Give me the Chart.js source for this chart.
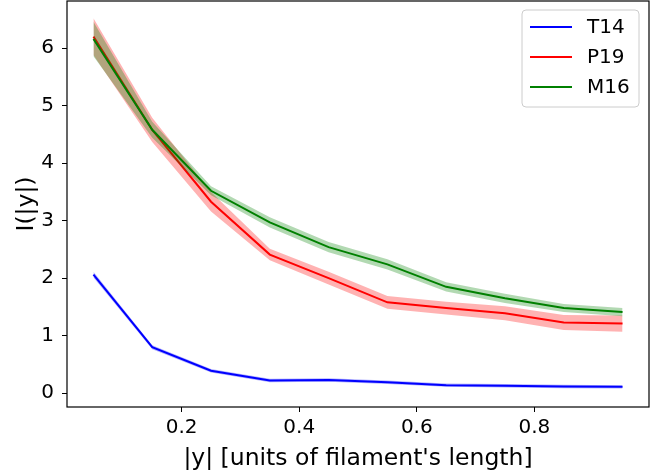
<!DOCTYPE html>
<html>
<head>
<meta charset="utf-8">
<script src="https://cdn.jsdelivr.net/npm/chart.js@4.4.1/dist/chart.umd.min.js"></script>
<style>
  html, body { margin: 0; padding: 0; background: #fff; }
  #wrap { width: 665px; height: 474px; }
</style>
</head>
<body>
<div id="wrap"><canvas id="myChart" width="665" height="474"></canvas></div>
<script>
// |y| positions (bin centres)
const xVals = [0.05, 0.15, 0.25, 0.35, 0.45, 0.55, 0.65, 0.75, 0.85, 0.95];

// series values and their shaded half-widths
const t14 = [2.06, 0.80, 0.39, 0.22, 0.23, 0.19, 0.14, 0.13, 0.115, 0.11];
const t14Err = [0.05, 0.035, 0.03, 0.03, 0.03, 0.03, 0.03, 0.03, 0.03, 0.03];
const p19 = [6.20, 4.58, 3.33, 2.41, 2.00, 1.58, 1.48, 1.39, 1.23, 1.21];
const p19Err = [0.32, 0.21, 0.17, 0.10, 0.11, 0.11, 0.11, 0.12, 0.13, 0.14];
const m16 = [6.16, 4.58, 3.52, 2.97, 2.54, 2.24, 1.85, 1.65, 1.48, 1.41];
const m16Err = [0.30, 0.14, 0.08, 0.09, 0.09, 0.09, 0.08, 0.08, 0.07, 0.07];

const labels = ["T14", "P19", "M16"];
const xTicks = [0.2, 0.4, 0.6, 0.8];
const yTicks = [0, 1, 2, 3, 4, 5, 6];

const FONT = "'DejaVu Sans', sans-serif";

function pts(vals, err, sign) {
    return xVals.map((x, i) => ({ x: x, y: vals[i] + sign * err[i] }));
}

function lineSet(label, vals, color, order) {
    return {
        label: label, data: pts(vals, vals.map(() => 0), 0),
        borderColor: color, borderWidth: 2, pointRadius: 0,
        fill: false, tension: 0, order: order
    };
}
function bandSet(vals, err, sign, fillTo, color, order) {
    return {
        label: "", data: pts(vals, err, sign),
        borderColor: "transparent", borderWidth: 0, pointRadius: 0,
        backgroundColor: color, fill: fillTo, tension: 0, order: order
    };
}

const datasets = [
    lineSet(labels[0], t14, "#0000ff", 4),
    bandSet(t14, t14Err, 1, 2, "rgba(0,0,255,0.3)", 5),
    bandSet(t14, t14Err, -1, false, "rgba(0,0,255,0.3)", 5),
    lineSet(labels[1], p19, "#ff0000", 2),
    bandSet(p19, p19Err, 1, 5, "rgba(255,0,0,0.3)", 3),
    bandSet(p19, p19Err, -1, false, "rgba(255,0,0,0.3)", 3),
    lineSet(labels[2], m16, "#008000", 0),
    bandSet(m16, m16Err, 1, 8, "rgba(0,128,0,0.3)", 1),
    bandSet(m16, m16Err, -1, false, "rgba(0,128,0,0.3)", 1)
];

// frame + legend drawn like matplotlib
const framePlugin = {
    id: "frame",
    afterDraw(chart) {
        const ctx = chart.ctx;
        const a = chart.chartArea;
        ctx.save();
        ctx.strokeStyle = "#000";
        ctx.lineWidth = 1.2;
        ctx.strokeRect(a.left, a.top, a.right - a.left, a.bottom - a.top);

        // legend box
        const bx = 522, by = 10, bw = 117, bh = 97, r = 4;
        ctx.beginPath();
        ctx.moveTo(bx + r, by);
        ctx.arcTo(bx + bw, by, bx + bw, by + bh, r);
        ctx.arcTo(bx + bw, by + bh, bx, by + bh, r);
        ctx.arcTo(bx, by + bh, bx, by, r);
        ctx.arcTo(bx, by, bx + bw, by, r);
        ctx.closePath();
        ctx.fillStyle = "rgba(255,255,255,0.8)";
        ctx.fill();
        ctx.strokeStyle = "#cccccc";
        ctx.lineWidth = 1;
        ctx.stroke();

        const colors = ["#0000ff", "#ff0000", "#008000"];
        ctx.font = "20px " + FONT;
        ctx.textBaseline = "middle";
        ctx.fillStyle = "#000";
        labels.forEach((lab, i) => {
            const yy = 27 + i * 30;
            ctx.beginPath();
            ctx.moveTo(530, yy);
            ctx.lineTo(572, yy);
            ctx.strokeStyle = colors[i];
            ctx.lineWidth = 2;
            ctx.stroke();
            ctx.fillText(lab, 587, yy + 1);
        });
        ctx.restore();
    }
};

new Chart(document.getElementById("myChart").getContext("2d"), {
    type: "line",
    data: { datasets: datasets },
    options: {
        responsive: false,
        animation: false,
        layout: { padding: { top: 1, right: 16, left: 0, bottom: 0 } },
        plugins: {
            legend: { display: false },
            tooltip: { enabled: false }
        },
        scales: {
            x: {
                type: "linear", min: 0.005, max: 0.995,
                afterFit: s => { s.height = 67; s.paddingLeft = 0; s.paddingRight = 0; },
                afterBuildTicks: s => { s.ticks = xTicks.map(v => ({ value: v })); },
                border: { display: false },
                grid: { drawOnChartArea: false, drawTicks: true, tickLength: 5, color: "#000", tickWidth: 1 },
                ticks: { color: "#000", padding: 4, maxRotation: 0, font: { family: FONT, size: 20 } },
                title: { display: true, text: "|y| [units of filament's length]", color: "#000",
                         padding: { top: 0, bottom: 1 }, font: { family: FONT, size: 23.5 } }
            },
            y: {
                type: "linear", min: -0.24, max: 6.82,
                afterFit: s => { s.width = 67; s.paddingTop = 0; s.paddingBottom = 0; },
                afterBuildTicks: s => { s.ticks = yTicks.map(v => ({ value: v })); },
                border: { display: false },
                grid: { drawOnChartArea: false, drawTicks: true, tickLength: 5, color: "#000", tickWidth: 1 },
                ticks: { color: "#000", padding: 8, font: { family: FONT, size: 20 } },
                title: { display: true, text: "I(|y|)", color: "#000",
                         padding: { top: 13, bottom: 0 }, font: { family: FONT, size: 23.5 } }
            }
        }
    },
    plugins: [framePlugin]
});
</script>
</body>
</html>
